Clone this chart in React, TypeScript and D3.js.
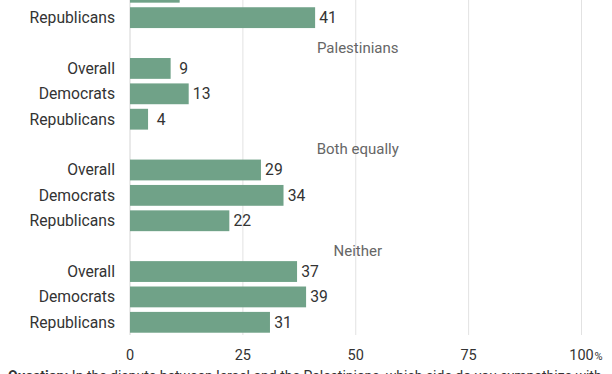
import React from "react";
import * as d3 from "d3";

// groups of the split bar chart, top to bottom (the first one is mostly above the crop)
const groups = ["Israelis", "Palestinians", "Both equally", "Neither"];
const parties = ["Overall", "Democrats", "Republicans"];

// values per group, same order as parties
const israelis = [23, 11, 41];
const palestinians = [9, 13, 4];
const bothEqually = [29, 34, 22];
const neither = [37, 39, 31];
const seriesValues = [israelis, palestinians, bothEqually, neither];

const xTicks = [0, 25, 50, 75, 100];
const questionLabel = "Question:";
const questionText =
  " In the dispute between Israel and the Palestinians, which side do you sympathize with";

const W = 612;
const H = 374;
const barColor = "#70a288";
const font = "Roboto, 'Noto Sans', sans-serif";

export default function App() {
  // one header row + three bar rows per group
  const rows: { key: string; group: number; party: number | null }[] = [];
  groups.forEach((g, gi) => {
    rows.push({ key: `${g}-header`, group: gi, party: null });
    parties.forEach((p, pi) => rows.push({ key: `${g}-${p}`, group: gi, party: pi }));
  });

  const x = d3.scaleLinear().domain([0, 100]).range([130, 581.5]);
  const y = d3
    .scaleBand<string>()
    .domain(rows.map((r) => r.key))
    .range([-71.2, 335])
    .paddingInner(0.18)
    .paddingOuter(0.09);
  const bw = y.bandwidth();

  return (
    <svg
      width={W}
      height={H}
      style={{ position: "absolute", left: 0, top: 0, background: "#fff" }}
      fontFamily={font}
    >
      {/* grid */}
      {xTicks.map((t) => (
        <line
          key={t}
          x1={x(t)}
          x2={x(t)}
          y1={0}
          y2={335}
          stroke={t === 0 ? "#d4d4d4" : "#e2e2e2"}
          strokeWidth={1}
        />
      ))}

      {rows.map((r) => {
        const top = y(r.key) as number;
        // texts of rows above the crop are not visible
        const showText = top + bw / 2 > 5;
        if (r.party === null) {
          const firstBar = y(`${groups[r.group]}-${parties[0]}`) as number;
          if (firstBar - 5.5 < 10) return null;
          return (
            <text
              key={r.key}
              x={x(50) + 2}
              y={firstBar - 5.5}
              textAnchor="middle"
              fontSize={15}
              fill="#666"
            >
              {groups[r.group]}
            </text>
          );
        }
        const v = seriesValues[r.group][r.party];
        return (
          <g key={r.key}>
            <rect
              x={x(0)}
              y={top}
              width={x(v) - x(0)}
              height={bw}
              fill={barColor}
            />
            {showText && (
              <>
                <text
                  x={115}
                  y={top + bw / 2}
                  dy="0.35em"
                  textAnchor="end"
                  fontSize={15.7}
                  fill="#333"
                >
                  {parties[r.party]}
                </text>
                <text
                  x={x(v) + 13}
                  y={top + bw / 2}
                  dy="0.35em"
                  textAnchor="middle"
                  fontSize={15.7}
                  fill="#333"
                >
                  {v}
                </text>
              </>
            )}
          </g>
        );
      })}

      {/* x axis labels */}
      {xTicks.map((t) => (
        <text
          key={`t${t}`}
          x={x(t)}
          y={360}
          textAnchor="middle"
          fontSize={14.5}
          fill="#333"
        >
          {t}
        </text>
      ))}
      <text x={x(100) + 13} y={360} fontSize={11} fill="#333">
        %
      </text>

      {/* footer note, cut by the bottom edge as in the reference */}
      <text x={8} y={380.5} fontSize={14} fill="#333">
        <tspan fontWeight="bold">{questionLabel}</tspan>
        {questionText}
      </text>
    </svg>
  );
}
